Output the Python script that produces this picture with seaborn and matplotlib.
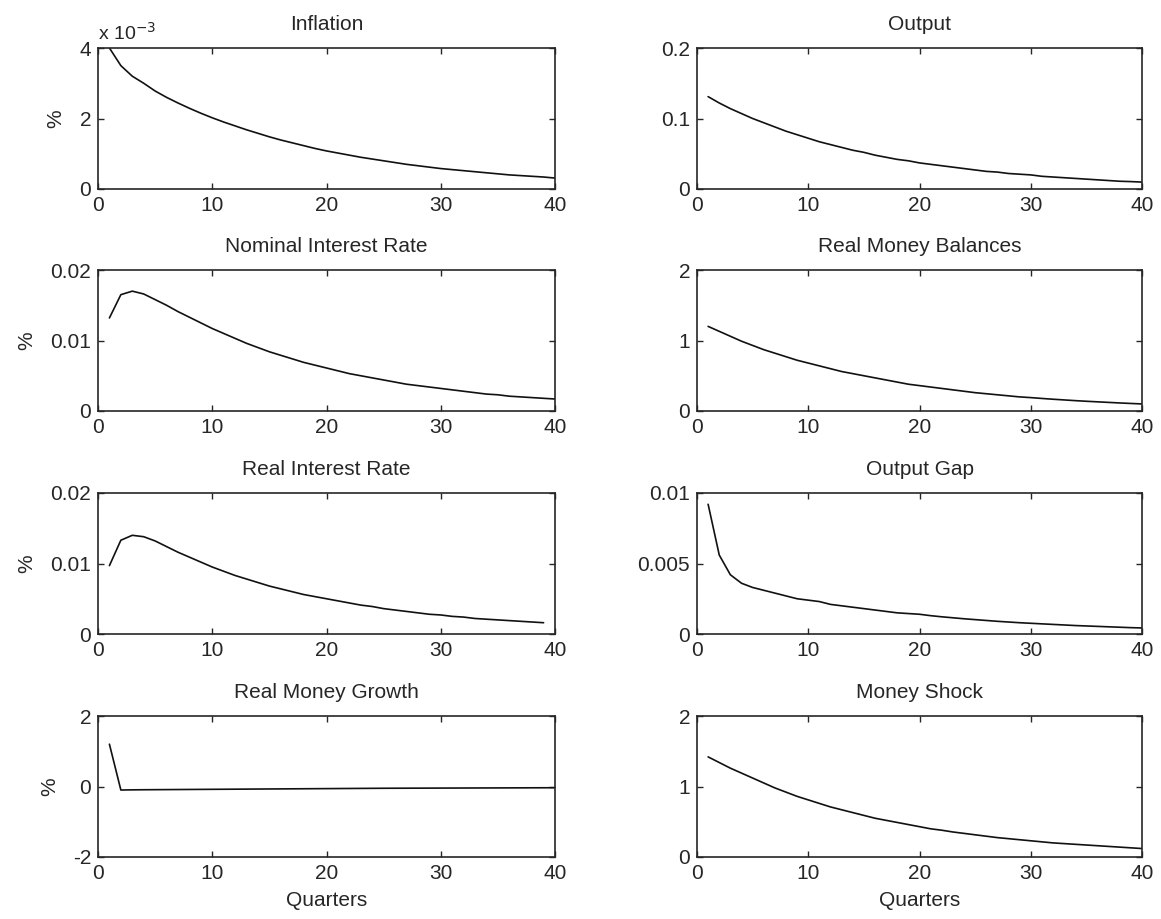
import numpy as np
import pandas as pd
import matplotlib
matplotlib.use('Agg')
import matplotlib.pyplot as plt
import seaborn as sns

# impulse responses (quarters 1..40)
quarters = list(range(1, 41))

inflation = [0.00400, 0.00350, 0.00320, 0.00300, 0.00278, 0.00260, 0.00244, 0.00229, 0.00215, 0.00202,
             0.00190, 0.00179, 0.00168, 0.00158, 0.00148, 0.00139, 0.00131, 0.00123, 0.00115, 0.00108,
             0.00102, 0.00096, 0.00090, 0.00085, 0.00080, 0.00075, 0.00070, 0.00066, 0.00062, 0.00058,
             0.00055, 0.00052, 0.00049, 0.00046, 0.00043, 0.00040, 0.00038, 0.00036, 0.00034, 0.00031]

output = [0.131, 0.122, 0.114, 0.107, 0.100, 0.094, 0.088, 0.082, 0.077, 0.072,
          0.067, 0.063, 0.059, 0.055, 0.052, 0.048, 0.045, 0.042, 0.040, 0.037,
          0.035, 0.033, 0.031, 0.029, 0.027, 0.025, 0.024, 0.022, 0.021, 0.020,
          0.018, 0.017, 0.016, 0.015, 0.014, 0.013, 0.012, 0.011, 0.0105, 0.0098]

nominal_rate = [0.0132, 0.0165, 0.0170, 0.0166, 0.0158, 0.0150, 0.0141, 0.0133, 0.0125, 0.0117,
                0.0110, 0.0103, 0.0096, 0.0090, 0.0084, 0.0079, 0.0074, 0.0069, 0.0065, 0.0061,
                0.0057, 0.0053, 0.0050, 0.0047, 0.0044, 0.0041, 0.0038, 0.0036, 0.0034, 0.0032,
                0.0030, 0.0028, 0.0026, 0.0024, 0.0023, 0.0021, 0.0020, 0.0019, 0.0018, 0.0017]

money_balances = [1.20, 1.13, 1.06, 0.99, 0.93, 0.87, 0.82, 0.77, 0.72, 0.68,
                  0.64, 0.60, 0.56, 0.53, 0.50, 0.47, 0.44, 0.41, 0.38, 0.36,
                  0.34, 0.32, 0.30, 0.28, 0.26, 0.245, 0.23, 0.215, 0.20, 0.19,
                  0.178, 0.167, 0.157, 0.147, 0.138, 0.13, 0.122, 0.114, 0.107, 0.10]

# real rate series stops at quarter 39
real_rate = [0.0097, 0.0133, 0.0140, 0.0138, 0.0132, 0.0124, 0.0116, 0.0109, 0.0102, 0.0095,
             0.0089, 0.0083, 0.0078, 0.0073, 0.0068, 0.0064, 0.0060, 0.0056, 0.0053, 0.0050,
             0.0047, 0.0044, 0.0041, 0.0039, 0.0036, 0.0034, 0.0032, 0.0030, 0.0028, 0.0027,
             0.0025, 0.0024, 0.0022, 0.0021, 0.0020, 0.0019, 0.0018, 0.0017, 0.0016]

output_gap = [0.0092, 0.0056, 0.0042, 0.0036, 0.0033, 0.0031, 0.0029, 0.0027, 0.0025, 0.0024,
              0.0023, 0.0021, 0.0020, 0.0019, 0.0018, 0.0017, 0.0016, 0.0015, 0.00145, 0.0014,
              0.0013, 0.00122, 0.00115, 0.00108, 0.00102, 0.00096, 0.0009, 0.00085, 0.0008, 0.00076,
              0.00072, 0.00068, 0.00064, 0.0006, 0.00057, 0.00054, 0.00051, 0.00048, 0.00045, 0.00043]

money_growth = [1.20, -0.10, -0.095, -0.092, -0.09, -0.088, -0.086, -0.084, -0.082, -0.08,
                -0.078, -0.076, -0.074, -0.072, -0.07, -0.068, -0.066, -0.064, -0.062, -0.06,
                -0.058, -0.056, -0.054, -0.052, -0.05, -0.049, -0.048, -0.047, -0.046, -0.045,
                -0.044, -0.043, -0.042, -0.041, -0.04, -0.039, -0.038, -0.037, -0.036, -0.035]

money_shock = [1.42, 1.34, 1.26, 1.19, 1.12, 1.05, 0.98, 0.92, 0.86, 0.81,
               0.76, 0.71, 0.67, 0.63, 0.59, 0.55, 0.52, 0.49, 0.46, 0.43,
               0.40, 0.38, 0.355, 0.335, 0.315, 0.295, 0.275, 0.26, 0.245, 0.23,
               0.215, 0.20, 0.19, 0.18, 0.17, 0.16, 0.15, 0.14, 0.13, 0.12]

titles = ['Inflation', 'Output', 'Nominal Interest Rate', 'Real Money Balances',
          'Real Interest Rate', 'Output Gap', 'Real Money Growth', 'Money Shock']
series = [inflation, output, nominal_rate, money_balances,
          real_rate, output_gap, money_growth, money_shock]
yticks = [[0, 0.002, 0.004], [0, 0.1, 0.2], [0, 0.01, 0.02], [0, 1, 2],
          [0, 0.01, 0.02], [0, 0.005, 0.01], [-2, 0, 2], [0, 1, 2]]
ytick_labels = [['0', '2', '4'], ['0', '0.1', '0.2'], ['0', '0.01', '0.02'], ['0', '1', '2'],
                ['0', '0.01', '0.02'], ['0', '0.005', '0.01'], ['-2', '0', '2'], ['0', '1', '2']]

sns.set_style('ticks')
plt.rcParams['font.family'] = ['Liberation Sans', 'DejaVu Sans']

fig = plt.figure(figsize=(11.61, 9.19), dpi=100)
W, H = 1161, 919
col_left = [98, 697]
col_width = [457, 445]
row_bottom = [189, 411, 634, 857]
ax_h = 141

for i, (title, vals) in enumerate(zip(titles, series)):
    r, c = divmod(i, 2)
    ax = fig.add_axes([col_left[c] / W, 1 - row_bottom[r] / H, col_width[c] / W, ax_h / H])
    df = pd.DataFrame({'Quarter': quarters[:len(vals)], 'Value': vals})
    sns.lineplot(data=df, x='Quarter', y='Value', ax=ax, color='#111111', linewidth=1.2)
    ax.set_xlim(0, 40)
    ax.set_ylim(yticks[i][0], yticks[i][-1])
    ax.set_xticks([0, 10, 20, 30, 40])
    ax.set_yticks(yticks[i])
    ax.set_yticklabels(ytick_labels[i])
    ax.tick_params(direction='in', top=True, right=True, labelsize=15, length=4, width=1, pad=5)
    for s in ax.spines.values():
        s.set_visible(True)
        s.set_linewidth(1.2)
    ax.set_title(title, fontsize=15, pad=13)
    ax.set_xlabel('Quarters' if r == 3 else '', fontsize=15, labelpad=6)
    ax.set_ylabel('%' if c == 0 else '', fontsize=15, labelpad=10)
    if i == 0:
        ax.text(0.0, 1.03, r'x 10$^{-3}$', transform=ax.transAxes, fontsize=14,
                ha='left', va='bottom')

fig.savefig('out.png', dpi=100)
